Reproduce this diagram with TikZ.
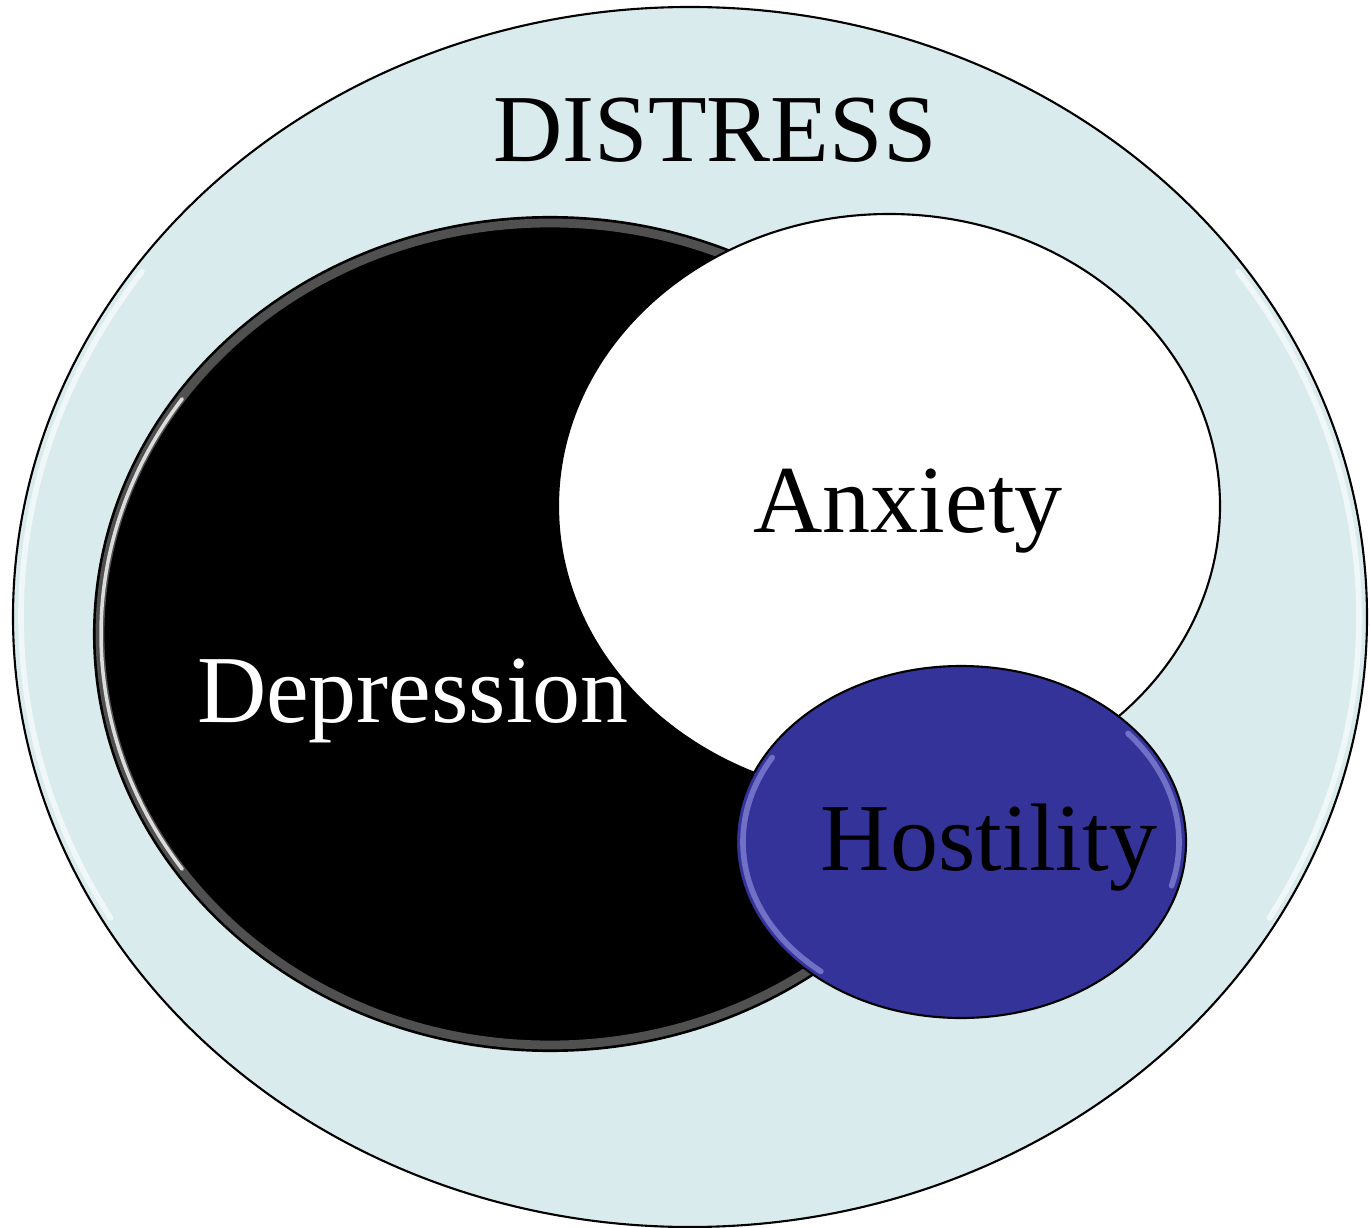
\documentclass[tikz,border=0pt]{standalone}
\usepackage{fontspec}
\setmainfont{Liberation Serif}

\definecolor{distressfill}{HTML}{DAEBEE}
\definecolor{hostilefill}{HTML}{343399}
\definecolor{hostileglow}{HTML}{9A9AE6}

\tikzset{
    setlabel/.style={inner sep=0pt, font=\fontsize{27.3}{32}\selectfont},
    rim/.style={line width=0.6pt, draw=black},
    glint/.style={line width=1.6pt, line cap=round, opacity=0.6}
}

\begin{document}
\begin{tikzpicture}[x=0.01cm, y=-0.01cm]

    \useasboundingbox (0,0) rectangle (1370,1228);

    % --------------------------------------------------
    % Outer set: Distress
    % --------------------------------------------------
    \draw[rim, fill=distressfill] (690,617) ellipse [x radius=677, y radius=610];
    \draw[glint, white] (690,617) ++(150:669 and 602)
        arc [start angle=150, end angle=215, x radius=669, y radius=602];
    \draw[glint, white] (690,617) ++(-35:669 and 602)
        arc [start angle=-35, end angle=30, x radius=669, y radius=602];

    % --------------------------------------------------
    % Depression (black)
    % --------------------------------------------------
    \draw[rim, fill=black] (550,634) ellipse [x radius=456, y radius=417];
    \draw[line width=2.5pt, gray!60, opacity=0.45] (550,634) ellipse [x radius=450, y radius=411];
    \draw[line width=1pt, line cap=round, white, opacity=0.8] (550,634) ++(145:449 and 410)
        arc [start angle=145, end angle=215, x radius=449, y radius=410];

    % --------------------------------------------------
    % Anxiety (white)
    % --------------------------------------------------
    \draw[rim, fill=white] (889,506) ellipse [x radius=331, y radius=292];

    % --------------------------------------------------
    % Hostility (blue)
    % --------------------------------------------------
    \draw[rim, fill=hostilefill] (961,842) ellipse [x radius=225, y radius=176];
    \draw[glint, hostileglow] (961,842) ++(130:218 and 169)
        arc [start angle=130, end angle=210, x radius=218, y radius=169];
    \draw[glint, hostileglow] (961,842) ++(-40:218 and 169)
        arc [start angle=-40, end angle=15, x radius=218, y radius=169];

    % Labels
    \node[setlabel, anchor=base] (distress) at (715,162) {DISTRESS};
    \node[setlabel, anchor=base] (anxiety) at (908,533) {Anxiety};
    \node[setlabel, anchor=base, text=white] (depression) at (413,722) {Depression};
    \node[setlabel, anchor=base] (hostility) at (989,870) {Hostility};

\end{tikzpicture}
\end{document}
